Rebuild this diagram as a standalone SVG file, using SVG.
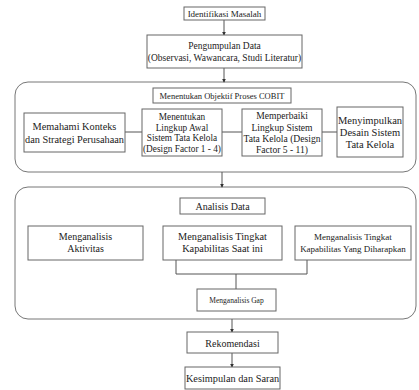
<svg xmlns="http://www.w3.org/2000/svg" width="419" height="390" viewBox="0 0 419 390" font-family="'Liberation Serif', 'Times New Roman', serif">
<defs>
<marker id="arr" viewBox="0 0 6 6" refX="5" refY="3" markerWidth="4" markerHeight="4" orient="auto"><path d="M0,0 L6,3 L0,6 z" fill="#333"/></marker>
</defs>
<style>
.box{fill:#fff;stroke:#666;stroke-width:1}
.grp{fill:#fff;stroke:#777;stroke-width:1}
.ln{fill:none;stroke:#555;stroke-width:1}
.ar{fill:none;stroke:#555;stroke-width:1;marker-end:url(#arr)}
text{font-family:'Liberation Serif','Times New Roman',serif;fill:#222;text-anchor:middle}
</style>
<rect width="419" height="390" fill="#fff"/>
<g id="group1"><rect class="grp" x="15" y="82" width="401" height="90" rx="13"/></g>
<g id="group2"><rect class="grp" x="15" y="187" width="401" height="132" rx="13"/></g>
<g id="connectors">
<line class="ar" x1="224" y1="20" x2="224" y2="35"/>
<line class="ar" x1="224" y1="68" x2="224" y2="82"/>
<line class="ln" x1="125" y1="132" x2="142" y2="132"/>
<line class="ln" x1="222" y1="132" x2="242" y2="132"/>
<line class="ln" x1="322" y1="132" x2="337" y2="132"/>
<line class="ar" x1="222" y1="172" x2="222" y2="187"/>
<polyline class="ln" points="176,260 176,274 307,274 307,260"/>
<line class="ln" x1="236" y1="274" x2="236" y2="289"/>
<line class="ar" x1="232" y1="319" x2="232" y2="332"/>
<line class="ar" x1="232" y1="353" x2="232" y2="367"/>
</g>
<g id="identifikasi"><rect class="box" x="184" y="7" width="81" height="13"/><text x="224.5" y="17" font-size="9">Identifikasi Masalah</text></g>
<g id="pengumpulan"><rect class="box" x="147" y="35" width="155" height="33"/><text x="224.5" y="49" font-size="9.5">Pengumpulan Data</text><text x="224.5" y="61" font-size="9.5">(Observasi, Wawancara, Studi Literatur)</text></g>
<g id="cobit"><rect class="box" x="153" y="88" width="138" height="15"/><text x="222" y="99" font-size="8.5">Menentukan Objektif Proses COBIT</text></g>
<g id="memahami"><rect class="box" x="24" y="113" width="101" height="39"/><text x="74.5" y="130" font-size="10.3">Memahami Konteks</text><text x="74.5" y="143" font-size="10.3">dan Strategi Perusahaan</text></g>
<g id="menentukan"><rect class="box" x="142" y="109" width="80" height="47"/><text x="182" y="120" font-size="9.3">Menentukan</text><text x="182" y="130.5" font-size="9.3">Lingkup Awal</text><text x="182" y="141" font-size="9.3">Sistem Tata Kelola</text><text x="182" y="151.5" font-size="9.3">(Design Factor 1 - 4)</text></g>
<g id="memperbaiki"><rect class="box" x="242" y="109" width="80" height="47"/><text x="282" y="119" font-size="9.6">Memperbaiki</text><text x="282" y="130.5" font-size="9.6">Lingkup Sistem</text><text x="282" y="142" font-size="9.6">Tata Kelola (Design</text><text x="282" y="153" font-size="9.6">Factor 5 - 11)</text></g>
<g id="menyimpulkan"><rect class="box" x="337" y="107" width="66" height="50"/><text x="370" y="124" font-size="10.5">Menyimpulkan</text><text x="370" y="136" font-size="10.5">Desain Sistem</text><text x="370" y="148" font-size="10.5">Tata Kelola</text></g>
<g id="analisis"><rect class="box" x="180" y="198" width="85" height="16"/><text x="222.5" y="209.5" font-size="10">Analisis Data</text></g>
<g id="aktivitas"><rect class="box" x="28" y="226" width="115" height="34"/><text x="85.5" y="240" font-size="10">Menganalisis</text><text x="85.5" y="252" font-size="10">Aktivitas</text></g>
<g id="saatini"><rect class="box" x="163" y="226" width="119" height="34"/><text x="222.5" y="240" font-size="10.3">Menganalisis Tingkat</text><text x="222.5" y="252" font-size="10.3">Kapabilitas Saat ini</text></g>
<g id="diharapkan"><rect class="box" x="295" y="226" width="116" height="34"/><text x="353" y="240" font-size="9">Menganalisis Tingkat</text><text x="353" y="251.5" font-size="9">Kapabilitas Yang Diharapkan</text></g>
<g id="gap"><rect class="box" x="197" y="289" width="79" height="22"/><text x="236.5" y="303" font-size="7.5">Menganalisis Gap</text></g>
<g id="rekomendasi"><rect class="box" x="187" y="332" width="91" height="21"/><text x="232.5" y="346.5" font-size="10">Rekomendasi</text></g>
<g id="kesimpulan"><rect class="box" x="185" y="367" width="95" height="22"/><text x="232.5" y="382" font-size="10.3">Kesimpulan dan Saran</text></g>
</svg>
